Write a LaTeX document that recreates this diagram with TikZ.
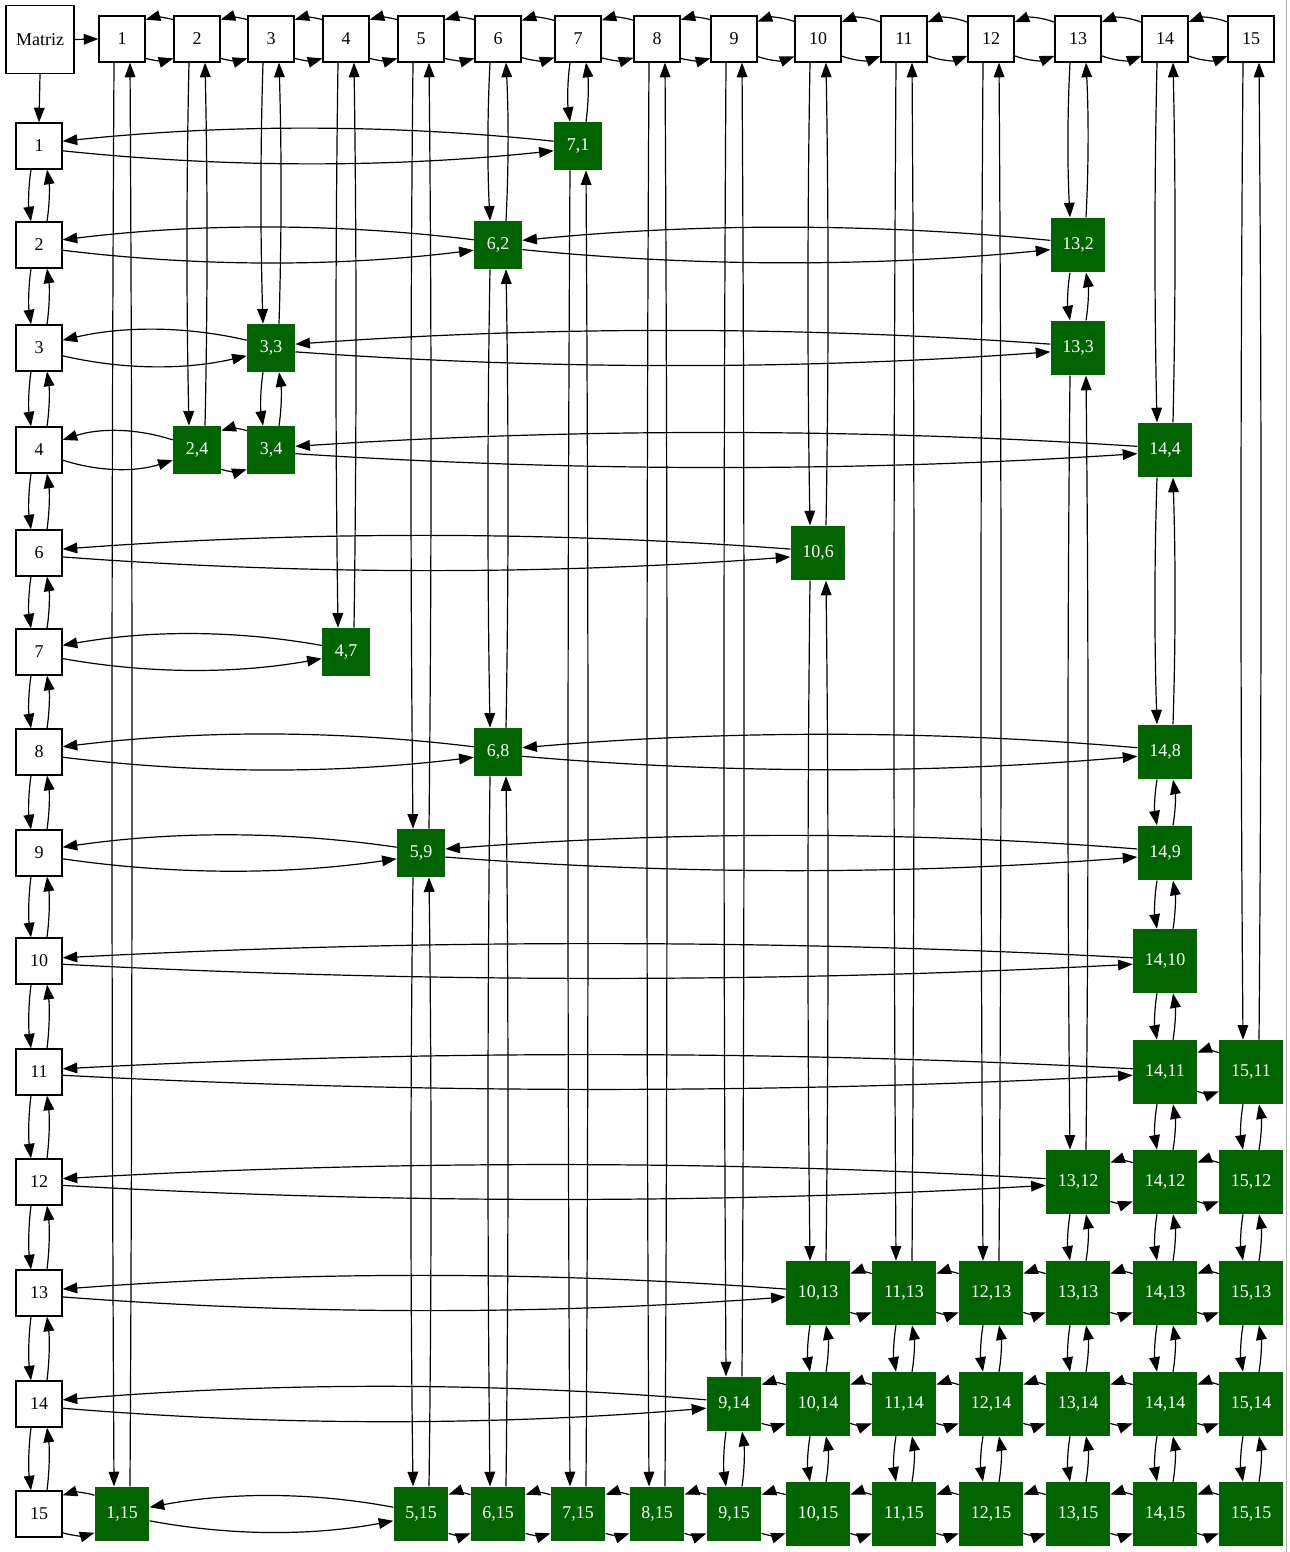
\documentclass[tikz,border=0pt]{standalone}
\usepackage{fontspec}
\setmainfont{Liberation Serif}
\usetikzlibrary{arrows.meta,calc}
\definecolor{dg}{RGB}{0,100,0}
\tikzset{
  lbl/.style={font=\fontsize{13.5}{15}\selectfont, inner sep=0pt},
  hdr/.style={lbl, draw=black, line width=0.9pt, fill=white, minimum size=34.5pt},
  gA/.style={lbl, fill=dg, text=white, minimum size=36pt},
  gB/.style={gA, minimum size=41pt},
  gC/.style={gA, minimum size=48pt},
  arr/.style={-{Triangle[length=11pt,width=8pt]}, line width=0.9pt, black},
}
\newcommand\hpair[2]{%
  \draw[arr] let \p1=(#1.east), \p2=(#2.west), \n1={\x2-\x1}, \n2={min(14.5,14.5*sqrt(22.5/\n1))} in
    (\x1,{\y1-\n2*1pt}) .. controls ({\x1+\n1/3*1pt},{\y1-16.5pt}) and ({\x2-\n1/3*1pt},{\y2-16.5pt}) .. (\x2,{\y2-\n2*1pt});
  \draw[arr] let \p1=(#1.east), \p2=(#2.west), \n1={\x2-\x1}, \n2={min(14.5,14.5*sqrt(22.5/\n1))} in
    (\x2,{\y2+\n2*1pt}) .. controls ({\x2-\n1/3*1pt},{\y2+16.5pt}) and ({\x1+\n1/3*1pt},{\y1+16.5pt}) .. (\x1,{\y1+\n2*1pt});
}
\newcommand\vpair[2]{%
  \draw[arr] let \p1=(#1.south), \p2=(#2.north), \n1={\y1-\y2} in
    ({\x1-6pt},\y1) .. controls ({\x1-8pt},{\y1-\n1/3*1pt}) and ({\x2-8pt},{\y2+\n1/3*1pt}) .. ({\x2-6pt},\y2);
  \draw[arr] let \p1=(#1.south), \p2=(#2.north), \n1={\y1-\y2} in
    ({\x2+6pt},\y2) .. controls ({\x2+8pt},{\y2+\n1/3*1pt}) and ({\x1+8pt},{\y1-\n1/3*1pt}) .. ({\x1+6pt},\y1);
}
\begin{document}
\begin{tikzpicture}[x=0.75pt,y=-0.75pt]
\fill[white] (0,0) rectangle (1289,1552);
\useasboundingbox (0,0) rectangle (1289,1552);
\draw[gray!60, line width=0.75pt] (1286,0) -- (1286,1552);
% Matriz
\node[hdr, minimum size=51pt] (M) at (40,39.5) {Matriz};
% column headers
\foreach \i/\x in {1/122,2/197,3/271,4/346,5/421,6/498,7/578,8/657,9/734,10/818,11/904,12/991,13/1078,14/1165,15/1251}
  \node[hdr] (c\i) at (\x,39) {\i};
% row headers
\foreach \j/\y in {1/146,2/245,3/348,4/450,6/553,7/652,8/752,9/853,10/961,11/1072,12/1182,13/1293,14/1404,15/1514}
  \node[hdr] (r\j) at (39,\y) {\j};
% green nodes
\node[gA] (g7x1) at (578,146) {7,1};
\node[gA] (g6x2) at (498,245) {6,2};
\node[gB] (g13x2) at (1078,245) {13,2};
\node[gA] (g3x3) at (271,348) {3,3};
\node[gB] (g13x3) at (1078,348) {13,3};
\node[gA] (g2x4) at (197,450) {2,4};
\node[gA] (g3x4) at (271,450) {3,4};
\node[gB] (g14x4) at (1165,450) {14,4};
\node[gB] (g10x6) at (818,553) {10,6};
\node[gA] (g4x7) at (346,652) {4,7};
\node[gA] (g6x8) at (498,752) {6,8};
\node[gB] (g14x8) at (1165,752) {14,8};
\node[gA] (g5x9) at (421,853) {5,9};
\node[gB] (g14x9) at (1165,853) {14,9};
\node[gC] (g14x10) at (1165,961) {14,10};
\node[gC] (g14x11) at (1165,1072) {14,11};
\node[gC] (g15x11) at (1251,1072) {15,11};
\node[gC] (g13x12) at (1078,1182) {13,12};
\node[gC] (g14x12) at (1165,1182) {14,12};
\node[gC] (g15x12) at (1251,1182) {15,12};
\foreach \c/\x in {10/818,11/904,12/991,13/1078,14/1165,15/1251}
  \node[gC] (g\c x13) at (\x,1293) {\c,13};
\node[gB] (g9x14) at (734,1404) {9,14};
\foreach \c/\x in {10/818,11/904,12/991,13/1078,14/1165,15/1251}
  \node[gC] (g\c x14) at (\x,1404) {\c,14};
\foreach \c/\x in {1/122,5/421,6/498,7/578,8/657,9/734}
  \node[gB] (g\c x15) at (\x,1514) {\c,15};
\foreach \c/\x in {10/818,11/904,12/991,13/1078,14/1165,15/1251}
  \node[gC] (g\c x15) at (\x,1514) {\c,15};
% Matriz links
\draw[arr] (M.east) -- (c1.west);
\draw[arr] (M.south) -- (r1.north);
% header chains
\foreach \a/\b in {c1/c2,c2/c3,c3/c4,c4/c5,c5/c6,c6/c7,c7/c8,c8/c9,c9/c10,c10/c11,c11/c12,c12/c13,c13/c14,c14/c15}
  {\hpair{\a}{\b}}
\foreach \a/\b in {r1/r2,r2/r3,r3/r4,r4/r6,r6/r7,r7/r8,r8/r9,r9/r10,r10/r11,r11/r12,r12/r13,r13/r14,r14/r15}
  {\vpair{\a}{\b}}
% row links
\foreach \a/\b in {r1/g7x1, r2/g6x2, g6x2/g13x2, r3/g3x3, g3x3/g13x3,
  r4/g2x4, g2x4/g3x4, g3x4/g14x4, r6/g10x6, r7/g4x7, r8/g6x8, g6x8/g14x8,
  r9/g5x9, g5x9/g14x9, r10/g14x10, r11/g14x11, g14x11/g15x11,
  r12/g13x12, g13x12/g14x12, g14x12/g15x12,
  r13/g10x13, g10x13/g11x13, g11x13/g12x13, g12x13/g13x13, g13x13/g14x13, g14x13/g15x13,
  r14/g9x14, g9x14/g10x14, g10x14/g11x14, g11x14/g12x14, g12x14/g13x14, g13x14/g14x14, g14x14/g15x14,
  r15/g1x15, g1x15/g5x15, g5x15/g6x15, g6x15/g7x15, g7x15/g8x15, g8x15/g9x15, g9x15/g10x15,
  g10x15/g11x15, g11x15/g12x15, g12x15/g13x15, g13x15/g14x15, g14x15/g15x15}
  {\hpair{\a}{\b}}
% column links
\foreach \a/\b in {c1/g1x15, c2/g2x4, c3/g3x3, g3x3/g3x4, c4/g4x7, c5/g5x9, g5x9/g5x15,
  c6/g6x2, g6x2/g6x8, g6x8/g6x15, c7/g7x1, g7x1/g7x15, c8/g8x15, c9/g9x14, g9x14/g9x15,
  c10/g10x6, g10x6/g10x13, g10x13/g10x14, g10x14/g10x15,
  c11/g11x13, g11x13/g11x14, g11x14/g11x15,
  c12/g12x13, g12x13/g12x14, g12x14/g12x15,
  c13/g13x2, g13x2/g13x3, g13x3/g13x12, g13x12/g13x13, g13x13/g13x14, g13x14/g13x15,
  c14/g14x4, g14x4/g14x8, g14x8/g14x9, g14x9/g14x10, g14x10/g14x11, g14x11/g14x12, g14x12/g14x13, g14x13/g14x14, g14x14/g14x15,
  c15/g15x11, g15x11/g15x12, g15x12/g15x13, g15x13/g15x14, g15x14/g15x15}
  {\vpair{\a}{\b}}
\end{tikzpicture}
\end{document}
